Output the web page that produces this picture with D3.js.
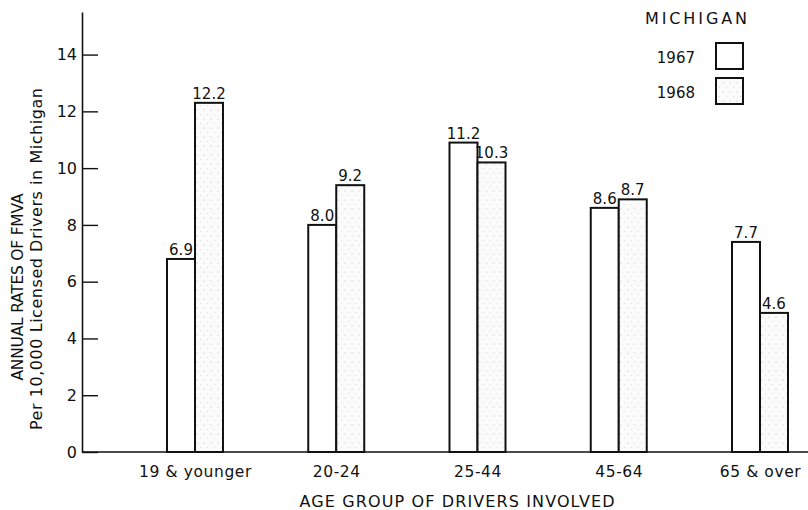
<!DOCTYPE html>
<html>
<head>
<meta charset="utf-8">
<script src="https://cdn.jsdelivr.net/npm/d3@7"></script>
<style>
  html, body { margin: 0; padding: 0; background: #fff; }
  svg { display: block; }
  text { font-family: "DejaVu Sans", sans-serif; fill: #111; }
</style>
</head>
<body>
<script>
// ---- data ----
const categories = ["19 & younger", "20-24", "25-44", "45-64", "65 & over"];
const series = ["1967", "1968"];
const rates1967 = [6.8, 8.0, 10.9, 8.6, 7.4];   // drawn bar heights
const rates1968 = [12.3, 9.4, 10.2, 8.9, 4.9];
const labels1967 = ["6.9", "8.0", "11.2", "8.6", "7.7"]; // printed values
const labels1968 = ["12.2", "9.2", "10.3", "8.7", "4.6"];
const yTicks = [0, 2, 4, 6, 8, 10, 12, 14];
const legendTitle = "MICHIGAN";
const yTitle1 = "ANNUAL RATES OF FMVA";
const yTitle2 = "Per 10,000 Licensed Drivers in Michigan";
const xTitle = "AGE GROUP OF DRIVERS INVOLVED";

const W = 808, H = 510;
const svg = d3.select("body").append("svg").attr("width", W).attr("height", H);

// stipple pattern for 1968
const defs = svg.append("defs");
const pat = defs.append("pattern").attr("id", "stip")
  .attr("patternUnits", "userSpaceOnUse").attr("width", 7).attr("height", 9);
pat.append("rect").attr("width", 7).attr("height", 9).attr("fill", "#fbfbfb");
pat.append("circle").attr("cx", 2).attr("cy", 2).attr("r", 0.6).attr("fill", "#b8b8b8");
pat.append("circle").attr("cx", 5.5).attr("cy", 6.5).attr("r", 0.5).attr("fill", "#cfcfcf");

const x0 = 82, yBase = 452;
const y = d3.scaleLinear().domain([0, 15.5]).range([yBase, 12]);
const xc = d3.scalePoint().domain(categories).range([195, 760]);
const xs = d3.scaleBand().domain(series).range([-28, 28]);

// y axis
const yAxis = d3.axisLeft(y).tickValues(yTicks).tickSizeInner(-16).tickSizeOuter(0).tickPadding(5);
const gy = svg.append("g").attr("transform", `translate(${x0},0)`).call(yAxis);
gy.select(".domain").attr("stroke", "#111").attr("stroke-width", 1.6);
gy.selectAll(".tick line").attr("stroke", "#111").attr("stroke-width", 1.4);
gy.selectAll(".tick text").attr("font-size", 16).attr("font-family", "DejaVu Sans").attr("fill", "#111");

// x axis
const gx = svg.append("g").attr("transform", `translate(0,${yBase})`)
  .call(d3.axisBottom(xc).tickSize(0).tickPadding(14));
gx.select(".domain").attr("d", `M${x0},0H${W}`).attr("stroke", "#111").attr("stroke-width", 1.6);
gx.selectAll(".tick text").attr("font-size", 15.5).attr("font-family", "DejaVu Sans")
  .attr("fill", "#111").attr("letter-spacing", 0.6);

// bars
const rows = categories.map((c, i) => ({ c, v: [rates1967[i], rates1968[i]], l: [labels1967[i], labels1968[i]] }));
const grp = svg.append("g").selectAll("g").data(rows).join("g")
  .attr("transform", d => `translate(${xc(d.c)},0)`);
const cells = grp.selectAll("g").data(d => series.map((s, j) => ({ s, v: d.v[j], l: d.l[j] }))).join("g");
cells.append("rect")
  .attr("x", d => xs(d.s)).attr("width", xs.bandwidth())
  .attr("y", d => y(d.v)).attr("height", d => yBase - y(d.v))
  .attr("fill", d => d.s === "1968" ? "url(#stip)" : "#fff")
  .attr("stroke", "#111").attr("stroke-width", 2);
cells.append("text")
  .attr("x", d => xs(d.s) + xs.bandwidth() / 2).attr("y", d => y(d.v) - 4)
  .attr("text-anchor", "middle").attr("font-size", 15).text(d => d.l);

// axis titles
svg.append("text").attr("transform", "translate(23,287) rotate(-90)")
  .attr("text-anchor", "middle").attr("font-size", 15.5)
  .attr("textLength", 187).attr("lengthAdjust", "spacing").text(yTitle1);
svg.append("text").attr("transform", "translate(42,259) rotate(-90)")
  .attr("text-anchor", "middle").attr("font-size", 16)
  .attr("textLength", 342).attr("lengthAdjust", "spacing").text(yTitle2);
svg.append("text").attr("x", 457).attr("y", 507)
  .attr("text-anchor", "middle").attr("font-size", 16)
  .attr("textLength", 315).attr("lengthAdjust", "spacing").text(xTitle);

// legend
svg.append("text").attr("x", 696).attr("y", 24).attr("text-anchor", "middle")
  .attr("font-size", 16).attr("textLength", 102).attr("lengthAdjust", "spacing").text(legendTitle);
const lg = svg.append("g").selectAll("g").data(series).join("g");
const ly = d3.scalePoint().domain(series).range([57, 92]);
lg.append("rect").attr("x", 716).attr("y", d => ly(d) - 14).attr("width", 27).attr("height", 26)
  .attr("fill", d => d === "1968" ? "url(#stip)" : "#fff").attr("stroke", "#111").attr("stroke-width", 2);
lg.append("text").attr("x", 695).attr("y", d => ly(d) + 6).attr("text-anchor", "end")
  .attr("font-size", 15).text(d => d);
</script>
</body>
</html>
